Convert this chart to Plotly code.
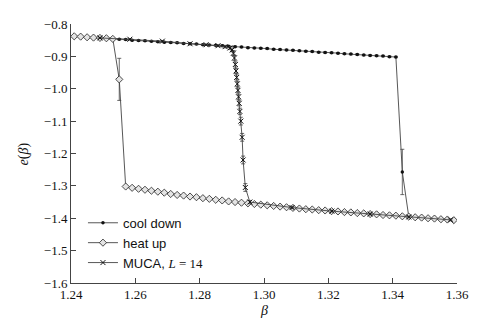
import plotly.graph_objects as go

# ---- data ----
cool_beta = [1.241, 1.243, 1.245, 1.247, 1.249, 1.251, 1.253, 1.255, 1.257, 1.259,
             1.261, 1.263, 1.265, 1.267, 1.269, 1.271, 1.273, 1.275, 1.277, 1.279,
             1.281, 1.283, 1.285, 1.287, 1.289, 1.291, 1.293, 1.295, 1.297, 1.299,
             1.301, 1.303, 1.305, 1.307, 1.309, 1.311, 1.313, 1.315, 1.317, 1.319,
             1.321, 1.323, 1.325, 1.327, 1.329, 1.331, 1.333, 1.335, 1.337, 1.339,
             1.341, 1.343, 1.345, 1.347, 1.349, 1.351, 1.353, 1.355, 1.357, 1.359]
cool_e = [-0.838, -0.839, -0.841, -0.842, -0.843, -0.844, -0.846, -0.847, -0.848, -0.850,
          -0.851, -0.852, -0.853, -0.855, -0.856, -0.857, -0.858, -0.860, -0.861, -0.862,
          -0.864, -0.865, -0.866, -0.867, -0.869, -0.870, -0.871, -0.873, -0.874, -0.875,
          -0.876, -0.878, -0.879, -0.880, -0.881, -0.883, -0.884, -0.885, -0.887, -0.888,
          -0.889, -0.890, -0.892, -0.893, -0.894, -0.896, -0.897, -0.898, -0.899, -0.901,
          -0.902, -1.257, -1.395, -1.397, -1.398, -1.400, -1.401, -1.403, -1.404, -1.406]
cool_err = [0.002] * 51 + [0.07] + [0.003] * 8

heat_beta = [1.241, 1.243, 1.245, 1.247, 1.249, 1.251, 1.253, 1.255, 1.257, 1.259,
             1.261, 1.263, 1.265, 1.267, 1.269, 1.271, 1.273, 1.275, 1.277, 1.279,
             1.281, 1.283, 1.285, 1.287, 1.289, 1.291, 1.293, 1.295, 1.297, 1.299,
             1.301, 1.303, 1.305, 1.307, 1.309, 1.311, 1.313, 1.315, 1.317, 1.319,
             1.321, 1.323, 1.325, 1.327, 1.329, 1.331, 1.333, 1.335, 1.337, 1.339,
             1.341, 1.343, 1.345, 1.347, 1.349, 1.351, 1.353, 1.355, 1.357, 1.359]
heat_e = [-0.838, -0.839, -0.841, -0.842, -0.843, -0.844, -0.846, -0.971, -1.302, -1.306,
          -1.309, -1.312, -1.315, -1.318, -1.321, -1.325, -1.328, -1.330, -1.333, -1.335,
          -1.338, -1.340, -1.343, -1.345, -1.348, -1.350, -1.352, -1.354, -1.356, -1.358,
          -1.360, -1.362, -1.364, -1.366, -1.368, -1.370, -1.372, -1.373, -1.375, -1.376,
          -1.378, -1.379, -1.381, -1.382, -1.384, -1.385, -1.387, -1.388, -1.390, -1.391,
          -1.392, -1.394, -1.395, -1.397, -1.398, -1.400, -1.401, -1.403, -1.404, -1.406]
heat_err = [0.002] * 7 + [0.065] + [0.002] * 52

muca_beta = [1.249, 1.2583, 1.2684, 1.277, 1.282, 1.2857, 1.2879, 1.2894, 1.2901, 1.2905,
             1.2908, 1.2911, 1.2913, 1.2915, 1.2917, 1.2919, 1.2921, 1.2923, 1.2925, 1.2928,
             1.2932, 1.2935, 1.2942, 1.2956, 1.3087, 1.3211, 1.333, 1.345, 1.358]
muca_e = [-0.843, -0.847, -0.853, -0.861, -0.864, -0.867, -0.870, -0.874, -0.880, -0.890,
          -0.905, -0.925, -0.945, -0.965, -0.985, -1.005, -1.025, -1.045, -1.070, -1.100,
          -1.150, -1.220, -1.305, -1.350, -1.367, -1.378, -1.387, -1.396, -1.405]
muca_err = [0.002, 0.002, 0.002, 0.002, 0.002, 0.003, 0.004, 0.005, 0.006, 0.008,
            0.008, 0.008, 0.008, 0.008, 0.008, 0.008, 0.008, 0.008, 0.010, 0.012,
            0.012, 0.012, 0.012, 0.005, 0.003, 0.003, 0.003, 0.003, 0.003]

x_ticks = [1.24, 1.26, 1.28, 1.30, 1.32, 1.34, 1.36]
y_ticks = [-0.8, -0.9, -1.0, -1.1, -1.2, -1.3, -1.4, -1.5, -1.6]

LINE = "#444444"
SERIF = "Liberation Serif, DejaVu Serif, serif"
SANS = "Liberation Sans, Arial, sans-serif"

fig = go.Figure()
fig.add_trace(go.Scatter(
    x=cool_beta, y=cool_e, name="cool down", mode="lines+markers",
    line=dict(color=LINE, width=0.9),
    marker=dict(symbol="circle", size=3.5, color="#111111"),
    error_y=dict(type="data", array=cool_err, visible=True, color=LINE, thickness=0.8, width=2),
))
fig.add_trace(go.Scatter(
    x=heat_beta, y=heat_e, name="heat up", mode="lines+markers",
    line=dict(color=LINE, width=0.9),
    marker=dict(symbol="diamond", size=5.5, color="#e4e4e4", line=dict(color="#222222", width=0.8)),
    error_y=dict(type="data", array=heat_err, visible=True, color=LINE, thickness=0.8, width=2),
))
fig.add_trace(go.Scatter(
    x=muca_beta, y=muca_e,
    name="MUCA, <span style='font-family:Liberation Serif;font-style:italic'>L</span><span style='font-family:Liberation Serif'> = 14</span>",
    mode="lines+markers",
    line=dict(color=LINE, width=0.9),
    marker=dict(symbol="x-thin", size=5, color="#111111", line=dict(color="#111111", width=1)),
    error_y=dict(type="data", array=muca_err, visible=True, color=LINE, thickness=0.8, width=2),
))

# the page body has an 8px default margin, so the figure is shrunk to fit the window
fig.update_layout(
    width=473, height=313,
    margin=dict(l=63, r=24, t=9, b=38),
    paper_bgcolor="white", plot_bgcolor="white",
    showlegend=True,
    legend=dict(x=0.031, y=0.02, xanchor="left", yanchor="bottom",
                bgcolor="rgba(0,0,0,0)", font=dict(family=SANS, size=13, color="#111111"),
                tracegroupgap=0, itemwidth=30),
    font=dict(family=SERIF, size=13, color="#111111"),
    annotations=[
        dict(text="<i>β</i>", xref="paper", yref="paper", x=0.5, y=-0.105,
             xanchor="center", yanchor="middle", showarrow=False,
             font=dict(family=SERIF, size=14, color="#111111")),
        dict(text="<i>e</i>(<i>β</i>)", xref="paper", yref="paper", x=-0.122, y=0.5,
             xanchor="center", yanchor="middle", showarrow=False, textangle=-90,
             font=dict(family=SERIF, size=14, color="#111111")),
    ],
)
fig.update_xaxes(
    range=[1.24, 1.36], tickvals=x_ticks, ticktext=[f"{v:.2f}" for v in x_ticks],
    ticks="inside", ticklen=5, tickcolor=LINE, showline=True, linecolor=LINE, linewidth=1,
    showgrid=False, zeroline=False, mirror=False, ticklabelstandoff=-1,
    tickfont=dict(family=SERIF, size=13),
)
fig.update_yaxes(
    range=[-1.6, -0.8], tickvals=y_ticks, ticktext=[f"\u2212{abs(v):.1f}" for v in y_ticks],
    ticks="inside", ticklen=5, tickcolor=LINE, showline=True, linecolor=LINE, linewidth=1,
    showgrid=False, zeroline=False, mirror=False,
    tickfont=dict(family=SERIF, size=13),
)

fig.write_html("out.html")
